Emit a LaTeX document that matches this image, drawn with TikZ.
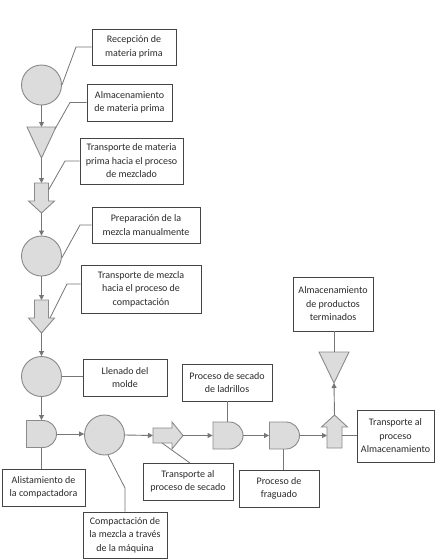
\documentclass[tikz,border=0pt]{standalone}
\usepackage{fontspec}
\setmainfont{Carlito}
\usetikzlibrary{arrows.meta,shapes.misc}
\definecolor{symfill}{HTML}{DCDCDC}
\definecolor{symdraw}{HTML}{8A8A8A}
\definecolor{linec}{HTML}{767676}
\definecolor{boxc}{HTML}{454545}
\definecolor{txt}{HTML}{2A2A2A}
\begin{document}
\begin{tikzpicture}[x=1pt,y=-1pt,
  sym/.style={draw=symdraw,fill=symfill,line width=0.9pt,line join=miter},
  circ/.style={sym,circle,minimum size=40pt,inner sep=0pt},
  dly/.style={sym,rounded rectangle,rounded rectangle left arc=none,minimum width=30pt,minimum height=27pt,inner sep=0pt},
  box/.style={draw=boxc,line width=0.8pt,text=txt,align=center,inner sep=0pt,font=\fontsize{10}{13.5}\selectfont},
  flow/.style={draw=linec,line width=0.9pt,-{Triangle[length=5pt,width=5pt]}},
  lead/.style={draw=linec,line width=0.8pt}]
\useasboundingbox[fill=white] (0,0) rectangle (440,560);

% ---- boxes ----
\node[box,minimum width=84pt,minimum height=36pt] (rec) at (134,47) {Recepción de\\materia prima};
\node[box,minimum width=85pt,minimum height=37pt] (almp) at (129.5,102.5) {Almacenamiento\\de materia prima};
\node[box,minimum width=103pt,minimum height=46pt] (tmp) at (131.5,161) {Transporte de materia\\prima hacia el proceso\\de mezclado};
\node[box,minimum width=108pt,minimum height=36pt] (prep) at (146,225) {Preparación de la\\mezcla manualmente};
\node[box,minimum width=120pt,minimum height=48pt] (tmez) at (141,289) {Transporte de mezcla\\hacia el proceso de\\compactación};
\node[box,minimum width=84pt,minimum height=37pt] (llen) at (125,377.5) {Llenado del\\molde};
\node[box,minimum width=83pt,minimum height=37pt] (alis) at (43.5,487.5) {Alistamiento de\\la compactadora};
\node[box,minimum width=84pt,minimum height=46pt] (comp) at (125,535) {Compactación de\\la mezcla a través\\de la máquina};
\node[box,minimum width=90pt,minimum height=37pt] (tsec) at (188,481.5) {Transporte al\\proceso de secado};
\node[box,minimum width=90pt,minimum height=37pt] (psec) at (227,382.5) {Proceso de secado\\de ladrillos};
\node[box,minimum width=80pt,minimum height=37pt] (frag) at (279,488.5) {Proceso de\\fraguado};
\node[box,minimum width=77pt,minimum height=52pt] (talm) at (395.5,436) {Transporte al\\proceso\\Almacenamiento};
\node[box,minimum width=80pt,minimum height=54pt] (apt) at (333,304) {Almacenamiento\\de productos\\terminados};

% ---- symbols ----
\node[circ] (c1) at (41.5,85) {};
\draw[sym] (27,127) coordinate (t1a) -- (56,127) coordinate (t1b) -- (41.5,158) coordinate (t1bot) -- cycle;
\coordinate (t1top) at (41.5,127);
\draw[sym] (34.5,183) -- (48.5,183) -- (48.5,201) -- (54.5,201) -- (41.5,213) -- (28.5,201) -- (34.5,201) -- cycle;
\coordinate (ba1t) at (41.5,183); \coordinate (ba1b) at (41.5,213); \coordinate (ba1r) at (48.5,190);
\node[circ] (c2) at (41.5,256) {};
\draw[sym] (34.5,300) -- (48.5,300) -- (48.5,318) -- (54.5,318) -- (41.5,333) -- (28.5,318) -- (34.5,318) -- cycle;
\coordinate (ba2t) at (41.5,300); \coordinate (ba2b) at (41.5,333); \coordinate (ba2r) at (50,318);
\node[circ] (c3) at (41.5,376.5) {};
\node[dly] (d1) at (41.5,434) {};
\node[circ] (c4) at (104.5,435) {};
\draw[sym] (153,428) -- (172,428) -- (172,422) -- (183,435.5) -- (172,449) -- (172,443) -- (153,443) -- cycle;
\coordinate (ba3l) at (153,435.5); \coordinate (ba3r) at (183,435.5); \coordinate (ba3d) at (162,443);
\node[dly] (d2) at (228,435.5) {};
\node[dly] (d3) at (284.5,435.5) {};
\draw[sym] (327,448) -- (327,427) -- (321.5,427) -- (334.5,415) -- (347.5,427) -- (342,427) -- (342,448) -- cycle;
\coordinate (uat) at (334.5,415); \coordinate (ual) at (327,435.5); \coordinate (uar) at (342,435.5);
\draw[sym] (319,352) -- (349,352) -- (334,383) -- cycle;
\coordinate (t2top) at (334,352); \coordinate (t2bot) at (334,383);

% ---- flow arrows ----
\draw[flow] (c1.south) -- (t1top);
\draw[flow] (t1bot) -- (ba1t);
\draw[flow] (ba1b) -- (c2.north);
\draw[flow] (c2.south) -- (ba2t);
\draw[flow] (ba2b) -- (c3.north);
\draw[flow] (c3.south) -- (d1.north);
\draw[flow] (d1.east) -- (d1.east -| c4.west);
\draw[flow] (c4.east) -- (ba3l);
\draw[flow] (ba3r) -- (d2.west);
\draw[flow] (d2.east) -- (d3.west);
\draw[flow] (d3.east) -- (ual);
\draw[flow] (uat) -- (t2bot);

% ---- leader lines ----
\draw[lead] (c1.east) -- (76,47) -- (rec.west);
\draw[lead] (55,129) -- (70,102.5) -- (almp.west);
\draw[lead] (ba1r) -- (65,161) -- (tmp.west);
\draw[lead] (c2.-5) -- (80,225) -- (prep.west);
\draw[lead] (ba2r) -- (67,284) -- (tmez.west |- 0,284);
\draw[lead] (c3.east) -- (c3.east -| llen.west);
\draw[lead] (d1.south) -- (d1.south |- alis.north);
\draw[lead] (c4.-80) -- (125,488) -- (comp.north);
\draw[lead] (ba3d) -- (190,463);
\draw[lead] (psec.south) -- (psec.south |- d2.north);
\draw[lead] (d3.south -| 283,0) -- (frag.north -| 283,0);
\draw[lead] (uar) -- (uar -| talm.west);
\draw[lead] (apt.south -| t2top) -- (t2top);
\end{tikzpicture}
\end{document}
